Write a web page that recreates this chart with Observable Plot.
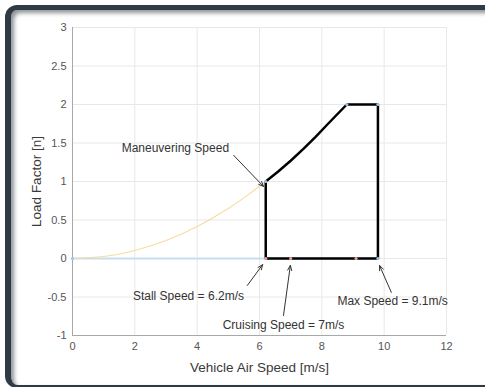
<!DOCTYPE html>
<html>
<head>
<meta charset="utf-8">
<script src="https://cdn.jsdelivr.net/npm/d3@7"></script>
<script src="https://cdn.jsdelivr.net/npm/@observablehq/plot@0.6"></script>
<style>
  html, body { margin: 0; padding: 0; background: #fff; overflow: hidden; width: 485px; height: 387px; }
  #wrap { position: relative; width: 485px; height: 387px; }
  #frame {
    position: absolute; left: 5px; top: 5px; width: 520px; height: 375px;
    border-top: 5px solid #2f3a44; border-left: 6px solid #2f3a44; border-bottom: 3px solid #2f3a44;
    border-radius: 12px 0 0 12px;
    box-shadow: inset 3px 3px 4px rgba(47,58,68,0.55);
    pointer-events: none;
  }
  #chart { position: absolute; left: 0; top: 0; }
</style>
</head>
<body>
<div id="wrap"><div id="chart"></div><div id="frame"></div></div>
<script>
// Yellow stall curve (below maneuvering speed)
const stallV = [0, 1, 2, 3, 4, 5, 5.6, 6.2];
const stallN = [0, 0.026, 0.104, 0.234, 0.416, 0.65, 0.816, 1.0];
// Black flight envelope
const envV = [6.2, 6.2, 6.6, 7.0, 7.4, 7.8, 8.2, 8.8, 9.8, 9.8, 6.2];
const envN = [0, 1.0, 1.13, 1.27, 1.42, 1.58, 1.75, 2.0, 2.0, 0, 0];
// Light blue zero line
const zeroV = [0, 9.8];
const zeroN = [0, 0];
// Marker points
const blueV = [0, 6.2, 8.8, 9.8, 9.8];
const blueN = [0, 1, 2, 2, 0];
const redV = [6.2, 7.0, 9.1];
const redN = [0, 0, 0];
// Annotations
const annText = ["Maneuvering Speed", "Stall Speed = 6.2m/s", "Cruising Speed = 7m/s", "Max Speed = 9.1m/s"];
const annTx = [3.3, 3.72, 6.77, 10.27];
const annTy = [1.43, -0.49, -0.87, -0.56];
const arrX1 = [5.17, 5.61, 6.77, 10.23];
const arrY1 = [1.34, -0.35, -0.74, -0.44];
const arrX2 = [6.13, 6.10, 6.99, 9.85];
const arrY2 = [0.935, -0.08, -0.09, -0.09];
// Ticks
const xTicks = [0, 2, 4, 6, 8, 10, 12];
const yTicks = [-1, -0.5, 0, 0.5, 1, 1.5, 2, 2.5, 3];

const pts = (xs, ys) => xs.map((x, i) => ({x, y: ys[i]}));
const ann = annText.map((t, i) => ({t, x: annTx[i], y: annTy[i], x1: arrX1[i], y1: arrY1[i], x2: arrX2[i], y2: arrY2[i]}));

const chart = Plot.plot({
  width: 485, height: 387,
  marginLeft: 72, marginRight: 39, marginTop: 27, marginBottom: 52,
  style: {fontFamily: "Liberation Sans, Arial, sans-serif", fontSize: "11px", color: "#555", background: "transparent"},
  x: {domain: [0, 12], ticks: xTicks, tickFormat: d => String(d), label: null},
  y: {domain: [-1, 3], ticks: yTicks, tickFormat: d => String(d), label: null},
  marks: [
    Plot.gridX(xTicks, {stroke: "#e8e8e8", strokeOpacity: 1}),
    Plot.gridY(yTicks, {stroke: "#e8e8e8", strokeOpacity: 1}),
    Plot.ruleX([0], {stroke: "#a8a8a8"}),
    Plot.ruleY([-1], {stroke: "#a8a8a8"}),
    Plot.axisX({ticks: xTicks, tickSize: 0, tickPadding: 7, fontSize: 11, label: null, tickFormat: d => String(d)}),
    Plot.axisY({ticks: yTicks, tickSize: 0, tickPadding: 6, fontSize: 11, label: null, tickFormat: d => String(d)}),
    Plot.line(pts(zeroV, zeroN), {x: "x", y: "y", stroke: "#c6def0", strokeWidth: 2}),
    Plot.line(pts(stallV, stallN), {x: "x", y: "y", stroke: "#f7dca3", strokeWidth: 1.1, curve: "natural"}),
    Plot.line(pts(envV, envN), {x: "x", y: "y", stroke: "#000", strokeWidth: 2.5, curve: "linear"}),
    Plot.dot(pts(blueV, blueN), {x: "x", y: "y", r: 1.6, fill: "#9cc6e6", stroke: "none"}),
    Plot.dot(pts(redV, redN), {x: "x", y: "y", r: 1.6, fill: "#f2a49b", stroke: "none"}),
    Plot.arrow(ann, {x1: "x1", y1: "y1", x2: "x2", y2: "y2", stroke: "#333", strokeWidth: 1, headLength: 8, headAngle: 45}),
    Plot.text(ann, {x: "x", y: "y", text: "t", fill: "#333", fontSize: 12}),
    Plot.text(["Vehicle Air Speed [m/s]"], {x: 6, y: -1, dy: 32, fontSize: 13.5, fill: "#3a3a3a", text: d => d}),
    Plot.text(["Load Factor [n]"], {x: 0, y: 1, dx: -36, rotate: -90, fontSize: 13.5, fill: "#3a3a3a", text: d => d})
  ]
});
document.getElementById("chart").append(chart);
</script>
</body>
</html>
